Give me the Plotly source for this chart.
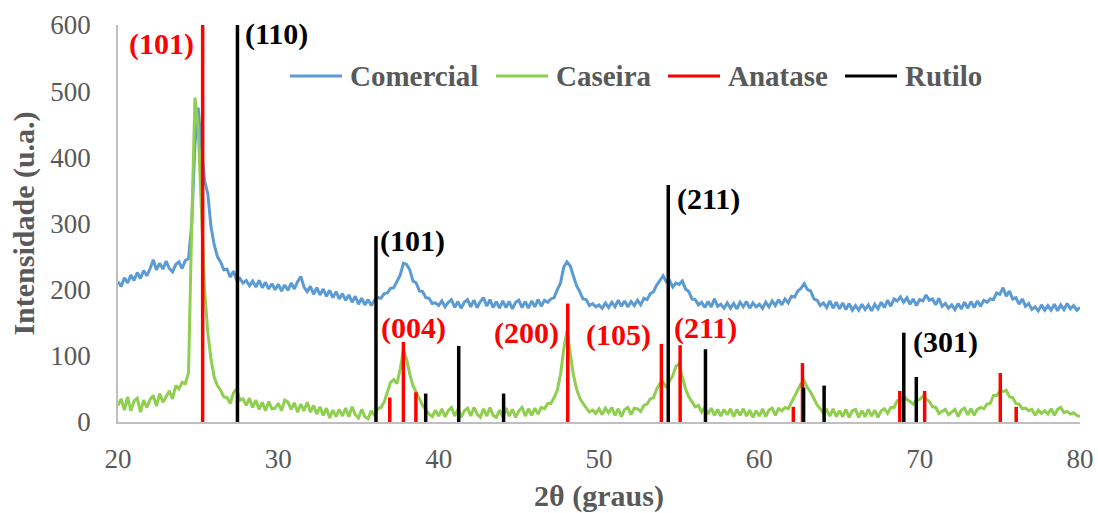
import numpy as np
import plotly.graph_objects as go

# 2-theta grid of the diffractograms (0.2 degree step)
two_theta = np.round(np.arange(20.0, 80.0001, 0.2), 1)

# Measured intensities (u.a.)
comercial = [
    212, 205, 218, 210, 222, 214, 226, 217, 229, 221,
    232, 245, 230, 240, 231, 243, 232, 227, 238, 242,
    232, 244, 247, 300, 420, 475, 415, 365, 345, 295,
    268, 250, 242, 230, 231, 219, 228, 215, 217, 210,
    214, 206, 213, 204, 214, 203, 211, 201, 209, 200,
    208, 198, 207, 199, 210, 201, 212, 220, 204, 197,
    205, 193, 203, 192, 201, 190, 199, 188, 197, 186,
    194, 184, 192, 181, 190, 178, 187, 177, 185, 176,
    184, 188, 187, 194, 195, 202, 203, 212, 222, 240,
    238, 230, 213, 210, 198, 197, 188, 187, 179, 180,
    176, 183, 174, 181, 185, 173, 182, 172, 181, 185,
    174, 184, 173, 182, 188, 175, 185, 173, 182, 172,
    183, 173, 182, 171, 181, 184, 173, 182, 172, 183,
    174, 185, 175, 184, 181, 186, 188, 200, 210, 234,
    242, 236, 222, 206, 197, 186, 185, 176, 179, 174,
    177, 172, 180, 173, 181, 174, 184, 175, 183, 174,
    182, 176, 184, 177, 187, 185, 194, 197, 207, 214,
    221, 212, 214, 204, 210, 208, 213, 201, 197, 186,
    185, 177, 181, 173, 182, 174, 186, 175, 178, 172,
    180, 172, 179, 171, 181, 174, 182, 172, 180, 174,
    178, 172, 181, 174, 183, 176, 185, 177, 186, 180,
    190, 189, 198, 202, 209, 200, 198, 186, 184, 176,
    180, 173, 183, 172, 181, 171, 180, 170, 179, 169,
    176, 169, 178, 170, 177, 168, 178, 171, 181, 173,
    184, 175, 186, 183, 189, 181, 188, 178, 186, 176,
    185, 183, 192, 184, 186, 177, 187, 175, 179, 172,
    177, 170, 179, 171, 181, 172, 182, 173, 183, 175,
    184, 181, 186, 185, 195, 193, 203, 190, 198, 186,
    188, 178, 186, 175, 179, 170, 174, 168, 177, 169,
    176, 169, 178, 168, 177, 170, 179, 171, 176, 169,
    173,
]

caseira = [
    25, 35, 18, 38, 17, 32, 36, 15, 33, 22,
    34, 40, 24, 43, 30, 39, 47, 35, 55, 50,
    60, 58, 75, 300, 490, 445, 330, 200, 135, 95,
    68, 55, 48, 38, 37, 28, 44, 50, 33, 35,
    25, 36, 22, 33, 19, 30, 17, 31, 20, 21,
    28, 17, 33, 30, 19, 29, 15, 27, 17, 30,
    15, 25, 12, 23, 10, 21, 6, 18, 8, 19,
    9, 21, 8, 23, 11, 6, 19, 8, 5, 17,
    10, 20, 22, 30, 45, 60, 64, 58, 80, 108,
    95, 72, 55, 45, 35, 25, 18, 12, 8, 18,
    9, 20, 8, 17, 22, 9, 19, 7, 17, 21,
    9, 22, 12, 7, 20, 9, 22, 10, 7, 18,
    8, 21, 9, 19, 7, 17, 22, 9, 20, 10,
    21, 12, 22, 20, 28, 28, 37, 48, 72, 110,
    138, 105, 72, 50, 36, 28, 22, 15, 18, 13,
    20, 11, 21, 14, 22, 10, 20, 8, 19, 22,
    11, 21, 20, 16, 25, 27, 35, 37, 50, 58,
    60, 52, 62, 70, 84, 88, 68, 50, 38, 30,
    23, 25, 15, 22, 12, 21, 10, 19, 9, 19,
    11, 20, 8, 19, 10, 20, 9, 18, 7, 17,
    9, 20, 8, 18, 21, 10, 20, 17, 22, 20,
    30, 38, 50, 58, 62, 52, 45, 35, 26, 20,
    13, 18, 9, 20, 8, 17, 8, 19, 7, 17,
    19, 7, 17, 8, 19, 9, 18, 7, 17, 20,
    13, 22, 22, 32, 32, 39, 34, 31, 27, 33,
    34, 39, 35, 31, 23, 22, 13, 16, 19, 11,
    15, 19, 8, 18, 21, 11, 20, 10, 19, 22,
    20, 27, 28, 40, 40, 47, 46, 48, 38, 37,
    28, 27, 20, 21, 17, 19, 10, 18, 13, 17,
    12, 20, 10, 19, 22, 14, 16, 12, 14, 10,
    8,
]

# Reference patterns (stick positions and relative heights)
anatase_pos = [25.28, 36.95, 37.80, 38.58, 48.05, 53.89, 55.06, 62.12, 62.69, 68.76, 70.31, 75.03, 76.02]
anatase_int = [600, 37, 121, 45, 179, 118, 116, 23, 89, 47, 47, 74, 23]
rutilo_pos = [27.45, 36.09, 39.19, 41.25, 44.05, 54.32, 56.64, 62.76, 64.04, 69.01, 69.79]
rutilo_int = [600, 281, 43, 115, 43, 358, 110, 52, 55, 135, 68]

x_ticks = [20, 30, 40, 50, 60, 70, 80]
y_ticks = [0, 100, 200, 300, 400, 500, 600]

series_names = ["Comercial", "Caseira", "Anatase", "Rutilo"]
series_colors = ["#5B9BD5", "#8FCF4F", "#FF0000", "#000000"]

SERIF = "Liberation Serif, Times New Roman, serif"
GREY = "#595959"


def sticks(pos, heights):
    xs, ys = [], []
    for p, h in zip(pos, heights):
        xs += [p, p, None]
        ys += [0, h, None]
    return xs, ys


fig = go.Figure()
fig.add_trace(go.Scatter(x=two_theta, y=comercial, mode="lines", name=series_names[0],
                         line=dict(color=series_colors[0], width=3), showlegend=False))
fig.add_trace(go.Scatter(x=two_theta, y=caseira, mode="lines", name=series_names[1],
                         line=dict(color=series_colors[1], width=3), showlegend=False))
ax, ay = sticks(anatase_pos, anatase_int)
fig.add_trace(go.Scatter(x=ax, y=ay, mode="lines", name=series_names[2],
                         line=dict(color=series_colors[2], width=3.5), showlegend=False))
rx, ry = sticks(rutilo_pos, rutilo_int)
fig.add_trace(go.Scatter(x=rx, y=ry, mode="lines", name=series_names[3],
                         line=dict(color=series_colors[3], width=3.5), showlegend=False))

# Legend drawn as line samples + labels along the top of the plot
legend_line_x = [(0.1788, 0.2328), (0.3929, 0.4470), (0.5717, 0.6258), (0.7557, 0.8098)]
legend_y = 0.8715
shapes = []
annotations = []
for name, color, (x0, x1) in zip(series_names, series_colors, legend_line_x):
    shapes.append(dict(type="line", xref="paper", yref="paper", x0=x0, x1=x1,
                       y0=legend_y, y1=legend_y, line=dict(color=color, width=3)))
    annotations.append(dict(xref="paper", yref="paper", x=x1 + 0.0065, y=legend_y,
                            xanchor="left", yanchor="middle", showarrow=False, text=name,
                            font=dict(family=SERIF, size=29, color=GREY, weight="bold")))

# Miller index labels of the reference reflections
peak_labels = [
    ("(101)", 25.28, 572, "right", -7, "#FF0000"),
    ("(110)", 27.45, 587, "left", 6, "#000000"),
    ("(101)", 36.09, 274, "left", 2, "#000000"),
    ("(004)", 37.80, 142, "left", -24, "#FF0000"),
    ("(200)", 48.05, 134, "right", -7, "#FF0000"),
    ("(105)", 53.89, 131, "right", -8, "#FF0000"),
    ("(211)", 55.06, 142, "left", -8, "#FF0000"),
    ("(211)", 54.32, 337, "left", 7, "#000000"),
    ("(301)", 69.01, 121, "left", 7, "#000000"),
]
for text, x, y, anchor, shift, color in peak_labels:
    annotations.append(dict(x=x, y=y, xref="x", yref="y", text=text, showarrow=False,
                            xanchor=anchor, yanchor="middle", xshift=shift,
                            font=dict(family=SERIF, size=30, color=color, weight="bold")))

axis_common = dict(showgrid=False, zeroline=False, showline=True, linecolor="#BFBFBF",
                   linewidth=1.5, ticks="", mirror=False, automargin=False,
                   tickfont=dict(family=SERIF, size=27, color=GREY))

fig.update_layout(
    width=1098, height=513,
    margin=dict(l=118, r=18, t=25, b=91),
    paper_bgcolor="white", plot_bgcolor="white",
    showlegend=False,
    shapes=shapes,
    annotations=annotations,
    xaxis=dict(range=[20, 80], tickvals=x_ticks, ticklabelstandoff=12,
               title=dict(text="2θ (graus)", standoff=13,
                          font=dict(family=SERIF, size=30, color=GREY, weight="bold")),
               **axis_common),
    yaxis=dict(range=[0, 600], tickvals=y_ticks, ticklabelstandoff=20,
               title=dict(text="Intensidade (u.a.)", standoff=7,
                          font=dict(family=SERIF, size=30, color=GREY, weight="bold")),
               **axis_common),
)

fig.write_html("out.html")
